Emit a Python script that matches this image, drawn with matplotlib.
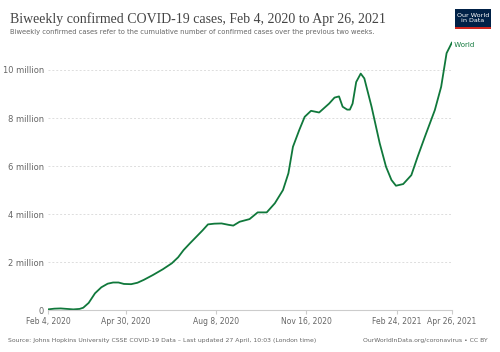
import pandas as pd
import matplotlib.pyplot as plt
from matplotlib.patches import Rectangle

# biweekly confirmed cases, millions
dates = ["2020-02-04", "2020-02-11", "2020-02-18", "2020-02-25", "2020-03-03",
         "2020-03-10", "2020-03-14", "2020-03-20", "2020-03-27", "2020-04-03",
         "2020-04-10", "2020-04-16", "2020-04-22", "2020-04-28", "2020-05-06",
         "2020-05-13", "2020-05-20", "2020-05-30", "2020-06-10", "2020-06-20",
         "2020-06-27", "2020-07-03", "2020-07-10", "2020-07-17", "2020-07-24",
         "2020-07-30", "2020-08-06", "2020-08-14", "2020-08-22", "2020-08-27",
         "2020-09-03", "2020-09-14", "2020-09-23", "2020-10-03", "2020-10-12",
         "2020-10-21", "2020-10-27", "2020-11-01", "2020-11-08", "2020-11-14",
         "2020-11-21", "2020-11-30", "2020-12-11", "2020-12-17", "2020-12-22",
         "2020-12-26", "2020-12-31", "2021-01-03", "2021-01-06", "2021-01-10",
         "2021-01-15", "2021-01-19", "2021-01-27", "2021-02-05", "2021-02-12",
         "2021-02-18", "2021-02-23", "2021-03-03", "2021-03-12", "2021-03-19",
         "2021-03-27", "2021-04-07", "2021-04-14", "2021-04-20", "2021-04-26"]
cases_m = [0.03, 0.06, 0.07, 0.05, 0.03,
           0.05, 0.10, 0.30, 0.70, 0.95,
           1.10, 1.15, 1.15, 1.09, 1.08,
           1.14, 1.26, 1.46, 1.70, 1.95,
           2.20, 2.50, 2.78, 3.05, 3.32,
           3.57, 3.60, 3.61, 3.55, 3.52,
           3.68, 3.79, 4.07, 4.07, 4.45,
           5.00, 5.70, 6.80, 7.50, 8.05,
           8.30, 8.23, 8.60, 8.85, 8.90,
           8.47, 8.35, 8.35, 8.60, 9.50,
           9.85, 9.65, 8.47, 6.95, 5.97,
           5.42, 5.18, 5.25, 5.62, 6.39,
           7.22, 8.33, 9.30, 10.70, 11.15]
tick_dates = ["2020-02-04", "2020-04-30", "2020-08-08", "2020-11-16", "2021-02-24", "2021-04-26"]
tick_labels = ["Feb 4, 2020", "Apr 30, 2020", "Aug 8, 2020", "Nov 16, 2020", "Feb 24, 2021", "Apr 26, 2021"]
y_ticks = [0, 2, 4, 6, 8, 10]
y_labels = ["0", "2 million", "4 million", "6 million", "8 million", "10 million"]

green = "#10783b"
grey = "#666666"

x = pd.to_datetime(dates)
y = [v * 1e6 for v in cases_m]

fig = plt.figure(figsize=(5, 3.52), dpi=100)
ax = fig.add_axes([0.096, 0.119, 0.808, 0.764])
ax.plot(x, y, color=green, lw=1.3, solid_capstyle="round", solid_joinstyle="round")

ax.set_xlim(pd.Timestamp(dates[0]), pd.Timestamp(dates[-1]))
ax.set_ylim(0, 11.2e6)
ax.set_yticks([v * 1e6 for v in y_ticks])
ax.set_yticklabels(y_labels)
ax.set_xticks(pd.to_datetime(tick_dates))
ax.set_xticklabels(tick_labels)

for s in ["top", "right", "left"]:
    ax.spines[s].set_visible(False)
ax.spines["bottom"].set_color("#cccccc")
ax.spines["bottom"].set_linewidth(0.8)
ax.grid(axis="y", color="#dddddd", lw=0.7, ls=(0, (2, 2)))
ax.set_axisbelow(True)
ax.tick_params(axis="y", length=0, labelsize=6, labelcolor=grey, pad=3)
ax.tick_params(axis="x", length=3, color="#cccccc", labelsize=5.5, labelcolor=grey, pad=2)

ax.text(x[-1], y[-1], " World", color=green, fontsize=5, va="top", ha="left")

fig.text(0.02, 0.965, "Biweekly confirmed COVID-19 cases, Feb 4, 2020 to Apr 26, 2021",
         family="Liberation Serif", fontsize=10, color="#444444", va="top")
fig.text(0.02, 0.918, "Biweekly confirmed cases refer to the cumulative number of confirmed cases over the previous two weeks.",
         fontsize=4.9, color=grey, va="top")

# logo
fig.patches.append(Rectangle((0.910, 0.924), 0.072, 0.050, transform=fig.transFigure,
                             facecolor="#002147", edgecolor="none"))
fig.patches.append(Rectangle((0.910, 0.917), 0.072, 0.007, transform=fig.transFigure,
                             facecolor="#ce261e", edgecolor="none"))
fig.text(0.946, 0.949, "Our World\nin Data", color="white", fontsize=4.6,
         ha="center", va="center", linespacing=1.0)

fig.text(0.016, 0.032, "Source: Johns Hopkins University CSSE COVID-19 Data \u2013 Last updated 27 April, 10:03 (London time)",
         fontsize=4.4, color=grey, va="center")
fig.text(0.976, 0.032, "OurWorldInData.org/coronavirus \u2022 CC BY",
         fontsize=4.4, color=grey, va="center", ha="right")

fig.savefig("out.png", dpi=100)
